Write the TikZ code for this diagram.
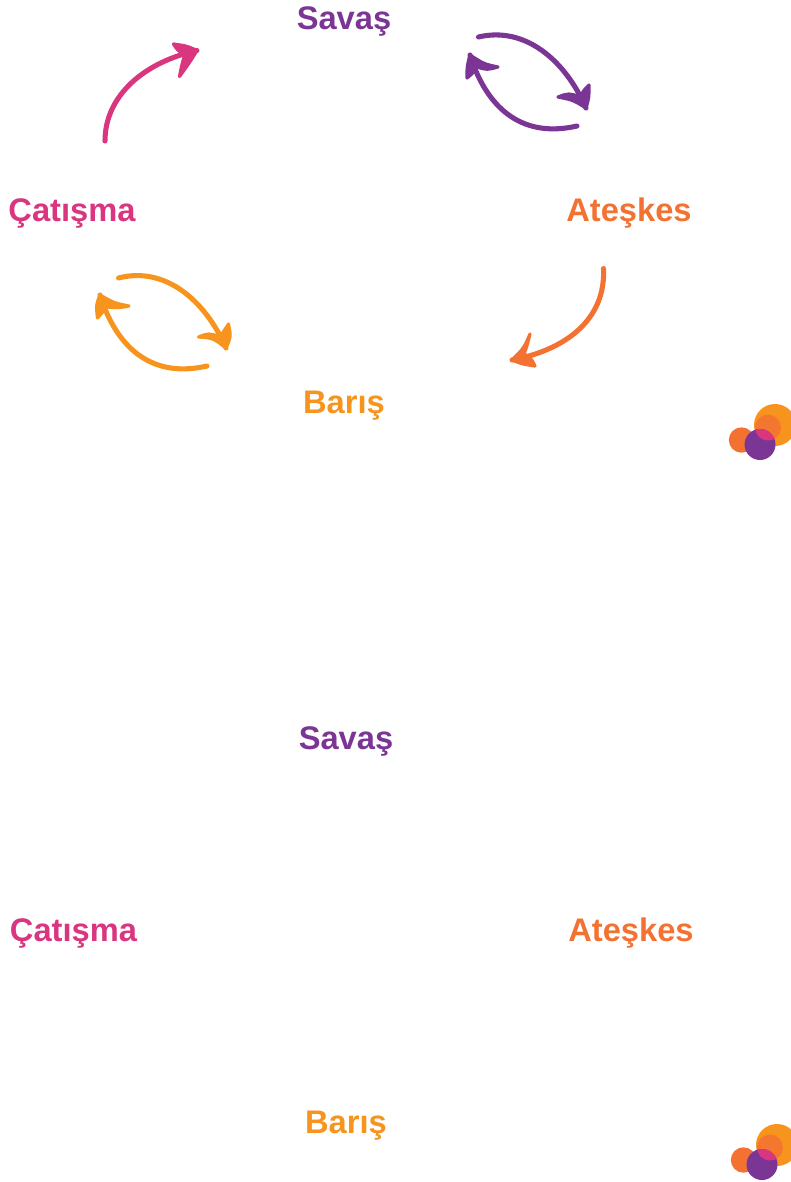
\documentclass[tikz,border=0pt]{standalone}
\usepackage{fontspec}
\setmainfont{Liberation Sans}
\definecolor{savascol}{HTML}{7B3594}
\definecolor{atescol}{HTML}{F37232}
\definecolor{bariscol}{HTML}{F7941D}
\definecolor{catiscol}{HTML}{D9367F}
\usetikzlibrary{positioning}

\begin{document}
\begin{tikzpicture}[x=0.75pt,y=0.75pt,yscale=-1,xscale=1,
    stagelabel/.style={inner sep=0.75pt,font=\bfseries\fontsize{24.5}{29}\selectfont},
    sweep/.style={line width=3.8pt,line cap=round,line join=round},
    sweephead/.style={line width=2.4pt,line join=round}]
        \useasboundingbox (0,0) rectangle (791,1182);

        % Text Node
        \node [stagelabel,text=savascol] (savas) at (344,21.5) {Savaş};
        % Text Node
        \node [stagelabel,text=atescol] (ateskes) at (629,213.5) {Ateşkes};
        % Text Node
        \node [stagelabel,text=catiscol] (catisma) at (72,213.5) {Çatışma};
        % Text Node
        \node [stagelabel,text=bariscol] (baris) at (344,405.5) {Barış};
        % Text Node
        \node [stagelabel,text=savascol] (savasB) at (346,741.5) {Savaş};
        % Text Node
        \node [stagelabel,text=atescol] (ateskesB) at (631,933.5) {Ateşkes};
        % Text Node
        \node [stagelabel,text=catiscol] (catismaB) at (73.5,933.5) {Çatışma};
        % Text Node
        \node [stagelabel,text=bariscol] (barisB) at (346,1125.5) {Barış};

        % Arrow ends
        \coordinate (savasOut) at (478.5,37);
        \coordinate (savasTip) at (586,108);
        \coordinate (ateskesOut) at (577,126);
        \coordinate (ateskesTip) at (470,55);
        \coordinate (fireOut) at (603.5,268.5);
        \coordinate (fireTip) at (512,360);
        \coordinate (peaceOut) at (118.5,278);
        \coordinate (peaceTip) at (226,348);
        \coordinate (backOut) at (207,366);
        \coordinate (backTip) at (100,295);
        \coordinate (clashOut) at (105,141);
        \coordinate (clashTip) at (197,50.5);

        %Curve Lines
        \draw [sweep,savascol] (savasOut) .. controls (525,26) and (565,60) .. (savasTip);
        \filldraw [sweephead,savascol] (558,97) .. controls (573,100) .. (savasTip) .. controls (589,98) .. (589,85) .. controls (584,90) .. (580,97) .. controls (569,93) .. cycle;
        %Curve Lines
        \draw [sweep,savascol] (ateskesOut) .. controls (525,138) and (488,112) .. (ateskesTip);
        \filldraw [sweephead,savascol] (498,67) .. controls (484,64) .. (ateskesTip) .. controls (467,66) .. (467,78) .. controls (473,73) .. (477,67) .. controls (487,70) .. cycle;
        %Curve Lines
        \draw [sweep,atescol] (fireOut) .. controls (606,320) and (565,350) .. (fireTip);
        \filldraw [sweephead,atescol] (530,334) .. controls (524,348) .. (fireTip) .. controls (522,364) .. (535,366) .. controls (531,358) .. (524,354) .. controls (527,346) .. cycle;
        %Curve Lines
        \draw [sweep,bariscol] (peaceOut) .. controls (165,266) and (205,300) .. (peaceTip);
        \filldraw [sweephead,bariscol] (198.5,337) .. controls (213,338) .. (peaceTip) .. controls (231,337) .. (228.5,324) .. controls (224,331) .. (220,337) .. controls (209,333) .. cycle;
        %Curve Lines
        \draw [sweep,bariscol] (backOut) .. controls (155,378) and (118,352) .. (backTip);
        \filldraw [sweephead,bariscol] (129,306) .. controls (114,303) .. (backTip) .. controls (96,305) .. (97.5,318) .. controls (103,313) .. (107,307) .. controls (118,308) .. cycle;
        %Curve Lines
        \draw [sweep,catiscol] (clashOut) .. controls (105,95) and (145,62) .. (clashTip);
        \filldraw [sweephead,catiscol] (173.5,44) .. controls (187,46) .. (clashTip) .. controls (190,62) .. (179.5,76.5) .. controls (182,64) .. (185,54) .. controls (178,51) .. cycle;

        % Logo dots
        \foreach \dotx/\doty in {0/0,2/720}{
          \begin{scope}[shift={(\dotx,\doty)}]
            \fill [bariscol] (775,425) circle [radius=21];
            \fill [atescol] (741.5,440) circle [radius=12.7];
            \fill [atescol!85!bariscol] (768,427.5) circle [radius=13];
            \fill [savascol] (760,444.5) circle [radius=15.5];
            \begin{scope}
              \clip (760,444.5) circle [radius=15.5];
              \fill [catiscol] (768,427.5) circle [radius=13];
            \end{scope}
          \end{scope}
        }
\end{tikzpicture}
\end{document}
